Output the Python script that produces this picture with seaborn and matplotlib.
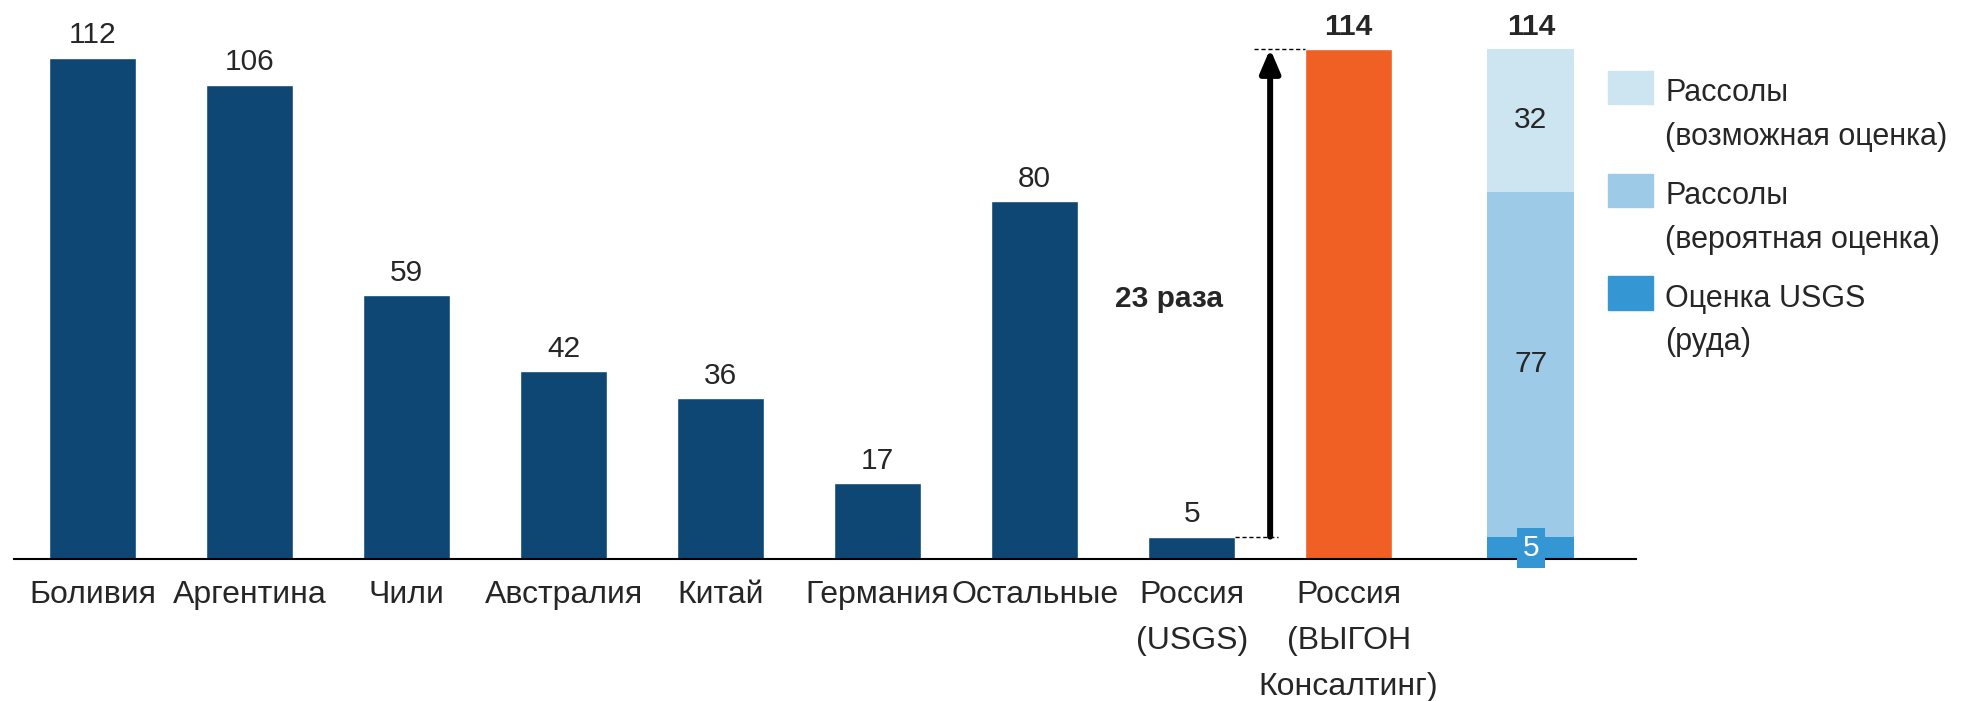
import numpy as np
import pandas as pd
import matplotlib.pyplot as plt
import seaborn as sns
from matplotlib.patches import Patch, Rectangle
from matplotlib.legend_handler import HandlerPatch

# reserves, mln t
categories = ['Боливия', 'Аргентина', 'Чили', 'Австралия', 'Китай', 'Германия',
              'Остальные', 'Россия\n(USGS)', 'Россия\n(ВЫГОН\nКонсалтинг)']
reserves = [112, 106, 59, 42, 36, 17, 80, 5, 114]
usgs_cat = 'Россия\n(USGS)'
highlight = 'Россия\n(ВЫГОН\nКонсалтинг)'
stack_parts = ['Оценка USGS\n(руда)', 'Рассолы\n(вероятная оценка)', 'Рассолы\n(возможная оценка)']
stack_values = [5, 77, 32]
ratio_text = '23 раза'

sns.set_style('white')
plt.rcParams['font.family'] = ['Liberation Sans', 'DejaVu Sans']

navy = '#0E4773'
orange = '#F05F23'
stack_colors = ['#3497D3', '#9CCAE7', '#CDE4F1']
bar_w = 0.555
fs = 21.5

df = pd.DataFrame({'country': categories, 'reserves': reserves})
palette = {c: (orange if c == highlight else navy) for c in categories}

fig = plt.figure(figsize=(19.64, 7.01), dpi=100)
ax = fig.add_axes([14 / 1964, 142 / 701, 1622 / 1964, 558 / 701])
sns.barplot(data=df, x='country', y='reserves', hue='country', palette=palette,
            width=bar_w, saturation=1, legend=False, ax=ax)

for i, v in enumerate(reserves):
    ax.annotate(str(v), (i, v), xytext=(0, 6), textcoords='offset points',
                ha='center', va='bottom', fontsize=fs,
                fontweight='bold' if categories[i] == highlight else 'normal')

# stacked bar on the right
xs = len(categories) + 0.16
bottoms = np.cumsum([0] + stack_values[:-1])
for v, b, c in zip(stack_values, bottoms, stack_colors):
    ax.bar(xs, v, bottom=b, width=bar_w, color=c, linewidth=0)
for k, (v, b) in enumerate(zip(stack_values, bottoms)):
    if k == 0:
        ax.text(xs, b + v / 2, str(v), ha='center', va='center', fontsize=fs, color='white',
                bbox=dict(boxstyle='square,pad=0.2', fc=stack_colors[0], ec='none'))
    else:
        ax.text(xs, b + v / 2, str(v), ha='center', va='center', fontsize=fs)
ax.annotate(str(sum(stack_values)), (xs, sum(stack_values)), xytext=(0, 6),
            textcoords='offset points', ha='center', va='bottom', fontsize=fs, fontweight='bold')

# arrow between the two Russian estimates
i0, i1 = categories.index(usgs_cat), categories.index(highlight)
y0, y1 = reserves[i0], reserves[i1]
xa = (i0 + i1) / 2
ax.annotate('', xy=(xa, y1), xytext=(xa, y0),
            arrowprops=dict(arrowstyle='-|>,head_width=0.3,head_length=0.7', lw=4.3,
                            color='black', shrinkA=0, shrinkB=0, mutation_scale=20))
ax.plot([i0 + bar_w / 2, xa + 0.05], [y0, y0], color='black', lw=1, ls=(0, (3, 2)))
ax.plot([xa - 0.1, i1 - bar_w / 2], [y1, y1], color='black', lw=1, ls=(0, (3, 2)))
ax.text(xa - 0.3, (y0 + y1) / 2 - 1.5, ratio_text, ha='right', va='center',
        fontsize=fs, fontweight='bold')

ax.set_xlim(-0.5, 9.83)
ax.set_ylim(0, 124.7)
ax.set_xlabel('')
ax.set_ylabel('')
ax.set_yticks([])
sns.despine(ax=ax, left=True)
ax.spines['bottom'].set_color('black')
ax.spines['bottom'].set_linewidth(1.5)
ax.tick_params(axis='x', length=0, pad=15, labelsize=23)
for t in ax.get_xticklabels():
    t.set_linespacing(1.7)


def top_patch(legend, orig_handle, xdescent, ydescent, width, height, fontsize):
    h = fontsize * 1.1
    return Rectangle((-xdescent, -ydescent + height - h + 13.5), width, h)


handles = [Patch(color=c) for c in stack_colors][::-1]
leg = fig.legend(handles, stack_parts[::-1], loc='upper left',
                 bbox_to_anchor=(1608 / 1964, 1 - 78 / 701), frameon=False, fontsize=22,
                 handlelength=1.47, handleheight=2.4, handletextpad=0.4, labelspacing=0.95,
                 borderpad=0, borderaxespad=0,
                 handler_map={Patch: HandlerPatch(patch_func=top_patch)})
for t in leg.get_texts():
    t.set_linespacing(1.6)

fig.savefig('out.png', dpi=100)
